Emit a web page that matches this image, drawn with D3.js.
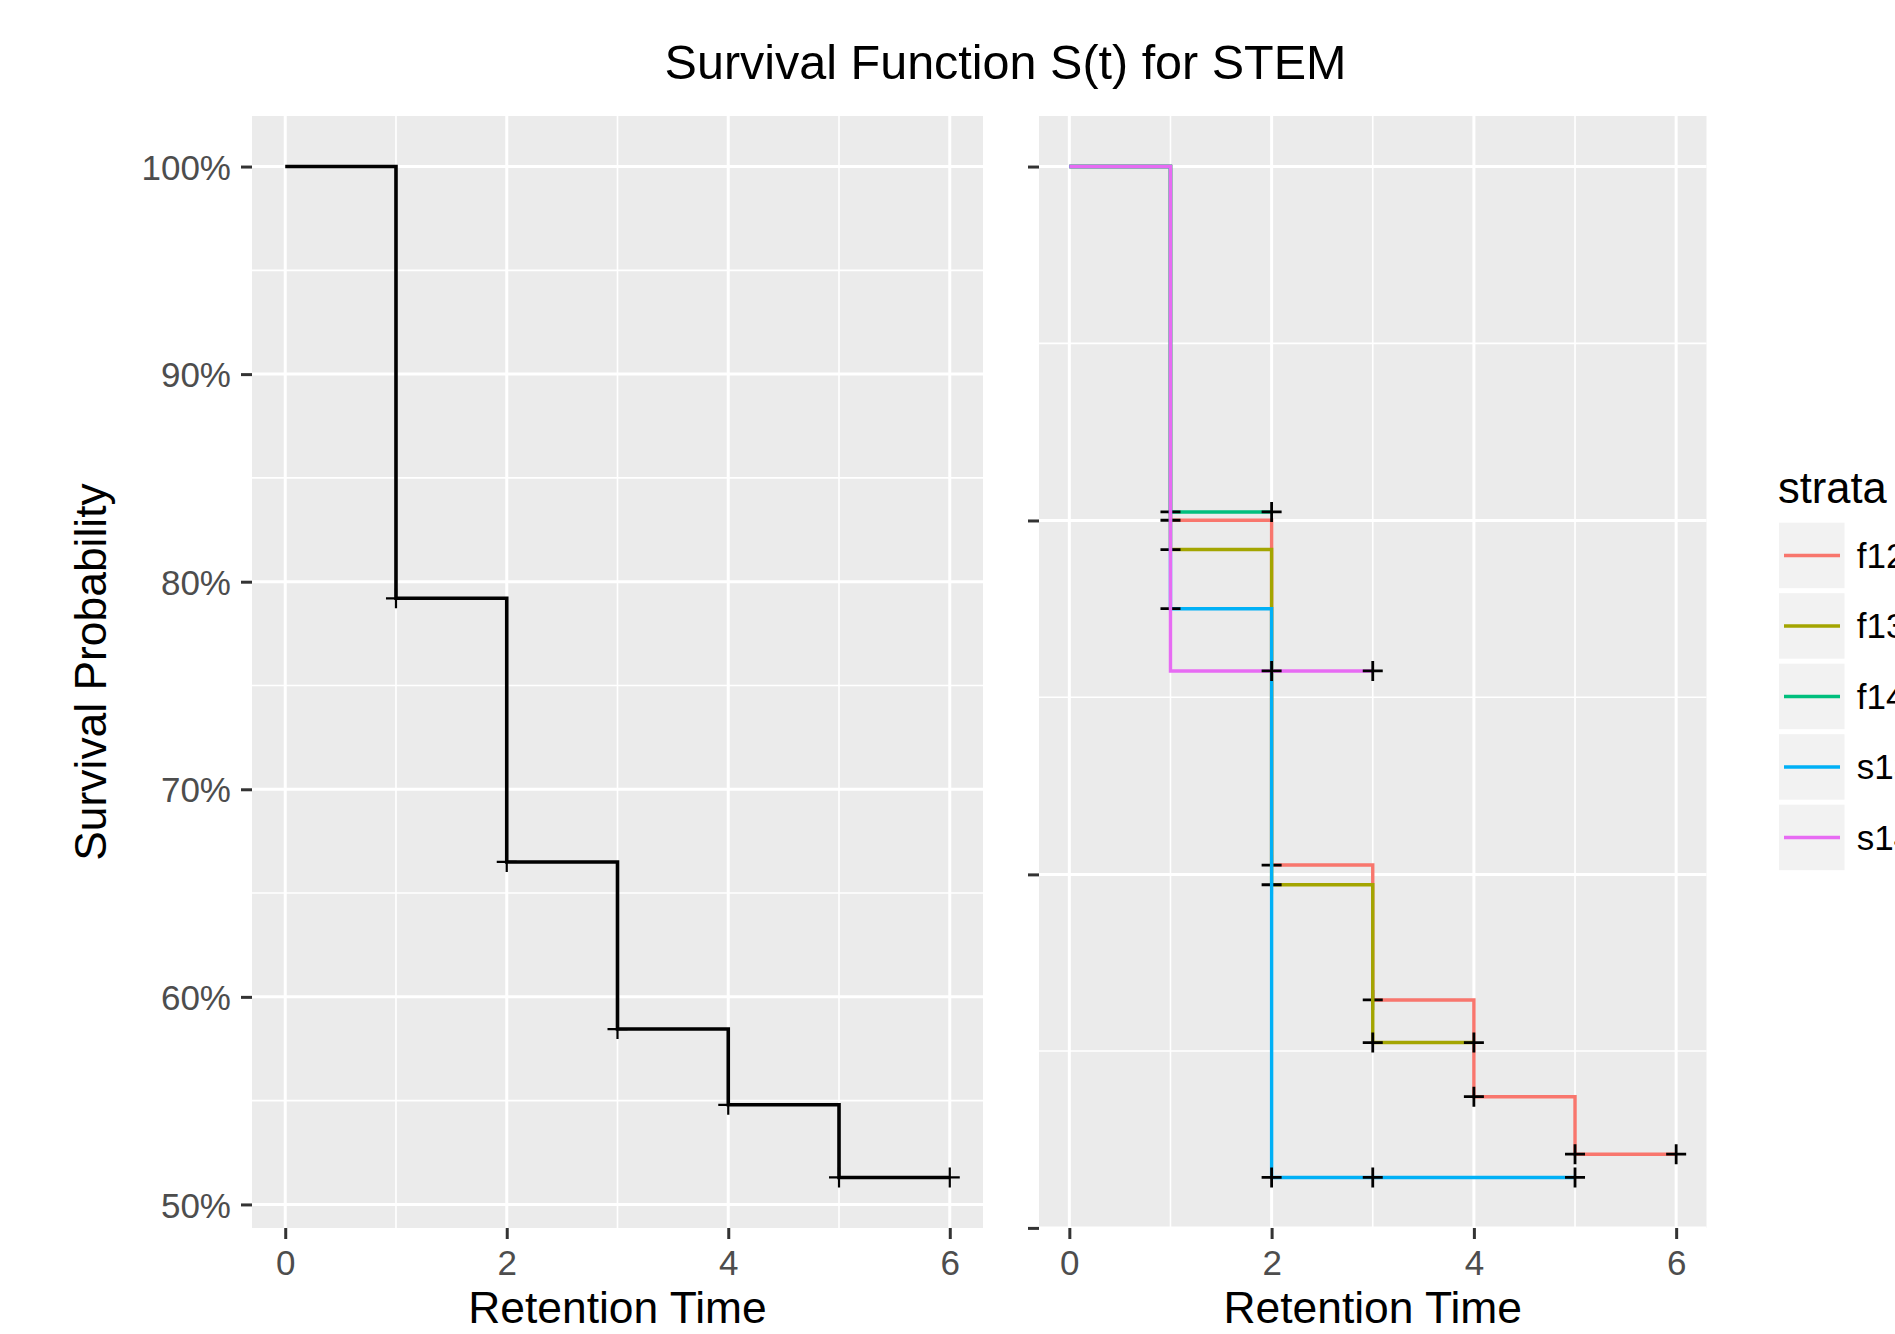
<!DOCTYPE html>
<html>
<head>
<meta charset="utf-8">
<script src="https://cdn.jsdelivr.net/npm/d3@7"></script>
<style>
  body { margin: 0; background: #fff; }
  text { font-family: "Liberation Sans", Arial, Helvetica, sans-serif; }
</style>
</head>
<body>
<svg id="chart" width="1895" height="1334"></svg>
<script>
// axis ticks
var xTicks = [0, 2, 4, 6];
var xMinor = [1, 3, 5];
var yTicks = [0.5, 0.6, 0.7, 0.8, 0.9, 1.0];
var yTickLabels = ["50%", "60%", "70%", "80%", "90%", "100%"];
var yMinor = [0.55, 0.65, 0.75, 0.85, 0.95];
var rightYTicks = [0.4887, 0.659, 0.8295, 1.0];
var rightYMinor = [0.5739, 0.7443, 0.9148];

// overall curve (left)
var allTime = [0, 1, 2, 3, 4, 5, 6];
var allSurv = [1.0, 0.792, 0.665, 0.5845, 0.548, 0.513, 0.513];
var allCensor = [1, 2, 3, 4, 5, 6];

// curves by strata (right)
var strataNames = ["f12", "f13", "f14", "s13", "s14"];
var strataColors = ["#F8766D", "#A3A500", "#00BF7D", "#00B0F6", "#E76BF3"];

var f12Time = [0, 1, 2, 3, 4, 5, 6];
var f12Surv = [1.0, 0.8296, 0.6635, 0.5985, 0.5519, 0.5242, 0.5242];
var f12Censor = [1, 2, 3, 4, 5, 6];

var f13Time = [0, 1, 2, 3, 4];
var f13Surv = [1.0, 0.8155, 0.654, 0.578, 0.578];
var f13Censor = [1, 2, 3, 4];

var f14Time = [0, 1, 2];
var f14Surv = [1.0, 0.8336, 0.8336];
var f14Censor = [1, 2];

var s13Time = [0, 1, 2, 5];
var s13Surv = [1.0, 0.787, 0.513, 0.513];
var s13Censor = [1, 2, 3, 5];

var s14Time = [0, 1, 3];
var s14Surv = [1.0, 0.757, 0.757];
var s14Censor = [2, 3];

var strataTime = [f12Time, f13Time, f14Time, s13Time, s14Time];
var strataSurv = [f12Surv, f13Surv, f14Surv, s13Surv, s14Surv];
var strataCensor = [f12Censor, f13Censor, f14Censor, s13Censor, s14Censor];

var panelTop = 116;
var panelBottom = 1228;
var svg = d3.select("#chart");

var allValues = allSurv.concat(f12Surv, f13Surv, f14Surv, s13Surv, s14Surv);
var yMin = d3.min(allValues), yMax = d3.max(allValues);
var yPad = (yMax - yMin) * 0.05;
var y = d3.scaleLinear().domain([yMin - yPad, yMax + yPad]).range([panelBottom, panelTop]);

var xLeft = d3.scaleLinear().domain([-0.3, 6.3]).range([252, 983]);
var xRight = d3.scaleLinear().domain([-0.3, 6.3]).range([1039, 1706.5]);

drawTitle();
drawPanel(xLeft, yTicks, yMinor, yTickLabels);
drawPanel(xRight, rightYTicks, rightYMinor, null);
drawCurve(xLeft, allTime, allSurv, allCensor, "#000000", 3.6, 2.2);
for (var i = 0; i < strataNames.length; i++) {
  drawCurve(xRight, strataTime[i], strataSurv[i], strataCensor[i], strataColors[i], 3.4, 2.8);
}
drawLegend();

function drawTitle() {
  svg.append("text")
    .attr("x", 1005.5)
    .attr("y", 79)
    .attr("text-anchor", "middle")
    .attr("font-size", "48.5px")
    .attr("fill", "#000")
    .text("Survival Function S(t) for STEM");

  svg.append("text")
    .attr("transform", "translate(106,672) rotate(-90)")
    .attr("text-anchor", "middle")
    .attr("font-size", "44.4px")
    .attr("fill", "#000")
    .text("Survival Probability");

  [xLeft, xRight].forEach(function(x) {
    var r = x.range();
    svg.append("text")
      .attr("x", (r[0] + r[1]) / 2)
      .attr("y", 1323)
      .attr("text-anchor", "middle")
      .attr("font-size", "44.4px")
      .attr("fill", "#000")
      .text("Retention Time");
  });
}

function drawPanel(x, yMajor, yMinorTicks, labels) {
  var r = x.range();
  var g = svg.append("g");

  g.append("rect")
    .attr("x", r[0])
    .attr("y", panelTop)
    .attr("width", r[1] - r[0])
    .attr("height", panelBottom - panelTop)
    .attr("fill", "#EBEBEB");

  // minor grid
  g.selectAll(".hminor").data(yMinorTicks).enter().append("line")
    .attr("x1", r[0]).attr("x2", r[1])
    .attr("y1", function(d) { return y(d); })
    .attr("y2", function(d) { return y(d); })
    .attr("stroke", "#fff").attr("stroke-width", 1.6);
  g.selectAll(".vminor").data(xMinor).enter().append("line")
    .attr("y1", panelTop).attr("y2", panelBottom)
    .attr("x1", function(d) { return x(d); })
    .attr("x2", function(d) { return x(d); })
    .attr("stroke", "#fff").attr("stroke-width", 1.6);

  // major grid
  g.selectAll(".hmajor").data(yMajor).enter().append("line")
    .attr("x1", r[0]).attr("x2", r[1])
    .attr("y1", function(d) { return y(d); })
    .attr("y2", function(d) { return y(d); })
    .attr("stroke", "#fff").attr("stroke-width", 3);
  g.selectAll(".vmajor").data(xTicks).enter().append("line")
    .attr("y1", panelTop).attr("y2", panelBottom)
    .attr("x1", function(d) { return x(d); })
    .attr("x2", function(d) { return x(d); })
    .attr("stroke", "#fff").attr("stroke-width", 3);

  // axes
  var yAxis = d3.axisLeft(y)
    .tickValues(yMajor)
    .tickSize(11)
    .tickPadding(10)
    .tickFormat(function(d, i) { return labels ? labels[i] : ""; });
  var ya = svg.append("g")
    .attr("transform", "translate(" + r[0] + ",0)")
    .call(yAxis);
  styleAxis(ya);
  ya.selectAll("text").attr("dy", "0.36em");

  var xAxis = d3.axisBottom(x)
    .tickValues(xTicks)
    .tickSize(11)
    .tickPadding(11)
    .tickFormat(d3.format("d"));
  var xa = svg.append("g")
    .attr("transform", "translate(0," + panelBottom + ")")
    .call(xAxis);
  styleAxis(xa);
}

function styleAxis(a) {
  a.select(".domain").remove();
  a.selectAll("line").attr("stroke", "#333333").attr("stroke-width", 3);
  a.selectAll("text")
    .attr("fill", "#4D4D4D")
    .attr("font-size", "35px")
    .style("font-family", "'Liberation Sans', Arial, sans-serif");
}

function drawCurve(x, times, surv, censor, color, width, markWidth) {
  var pts = times.map(function(t, i) { return [t, surv[i]]; });
  var line = d3.line()
    .x(function(d) { return x(d[0]); })
    .y(function(d) { return y(d[1]); })
    .curve(d3.curveStepAfter);

  svg.append("path")
    .datum(pts)
    .attr("d", line)
    .attr("fill", "none")
    .attr("stroke", color)
    .attr("stroke-width", width);

  svg.append("g").selectAll("path")
    .data(censor).enter().append("path")
    .attr("transform", function(t) {
      var k = d3.bisectRight(times, t) - 1;
      return "translate(" + x(t) + "," + y(surv[k]) + ")";
    })
    .attr("d", "M-10,0H10M0,-10V10")
    .attr("fill", "none")
    .attr("stroke", "#000")
    .attr("stroke-width", markWidth);
}

function drawLegend() {
  var lg = svg.append("g");
  lg.append("text")
    .attr("x", 1778)
    .attr("y", 503)
    .attr("font-size", "43.5px")
    .attr("fill", "#000")
    .text("strata");

  var keyTop = 522.7, keyStep = 70.5, keySize = 65.5;
  var keys = lg.selectAll(".key").data(strataNames).enter().append("g")
    .attr("transform", function(d, i) { return "translate(1779," + (keyTop + i * keyStep) + ")"; });

  keys.append("rect")
    .attr("width", keySize)
    .attr("height", keySize)
    .attr("fill", "#F2F2F2");
  keys.append("line")
    .attr("x1", 5).attr("x2", 61)
    .attr("y1", keySize / 2).attr("y2", keySize / 2)
    .attr("stroke", function(d, i) { return strataColors[i]; })
    .attr("stroke-width", 3.6);
  keys.append("text")
    .attr("x", 77.7)
    .attr("y", keySize / 2 + 12.5)
    .attr("font-size", "35px")
    .attr("fill", "#000")
    .text(function(d) { return d; });
}
</script>
</body>
</html>
